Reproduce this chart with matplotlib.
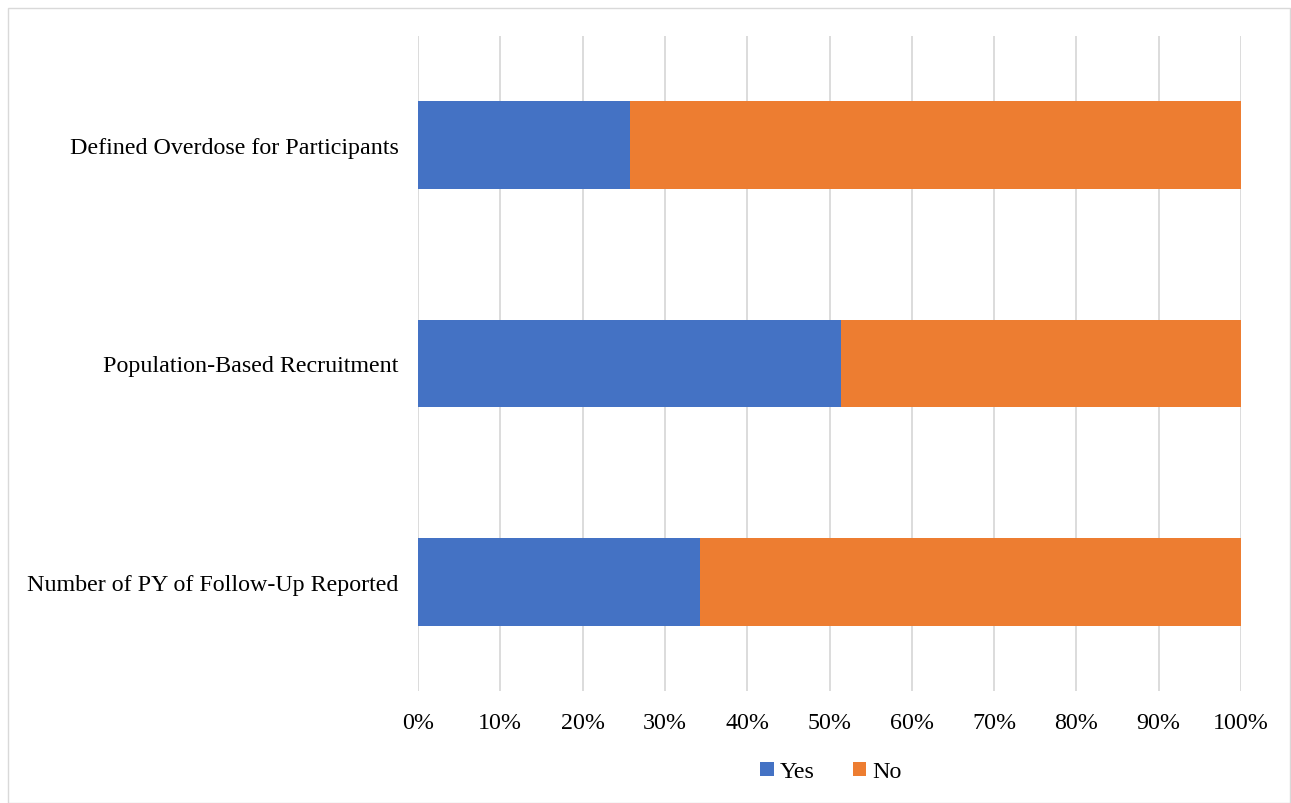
import matplotlib
matplotlib.use("Agg")
from matplotlib import pyplot as plt
from matplotlib.patches import Rectangle

# Data (35 studies, share answering yes/no)
categories = ["Number of PY of Follow-Up Reported",
              "Population-Based Recruitment",
              "Defined Overdose for Participants"]
yes = [12 / 35, 18 / 35, 9 / 35]
no = [23 / 35, 17 / 35, 26 / 35]
ticks = [i / 10 for i in range(11)]
tick_labels = ["%d%%" % (t * 10) for t in range(11)]

plt.rcParams["font.family"] = ["Liberation Serif", "DejaVu Serif"]

fig = plt.figure(figsize=(12.91, 8.04), dpi=100)
ax = fig.add_axes([418 / 1291, 1 - 692 / 804, 823 / 1291, 655 / 804])

ax.barh(categories, yes, height=0.4, color="#4472C4", label="Yes", zorder=3)
ax.barh(categories, no, left=yes, height=0.4, color="#ED7D31", label="No", zorder=3)

ax.set_xlim(0, 1)
ax.set_ylim(-0.5, 2.5)
ax.set_xticks(ticks)
ax.set_xticklabels(tick_labels)
ax.grid(axis="x", color="#D9D9D9", linewidth=1.3, zorder=0)
for s in ax.spines.values():
    s.set_visible(False)
ax.tick_params(axis="both", length=0, labelsize=17.3, colors="#000000")
ax.tick_params(axis="x", pad=15)
ax.tick_params(axis="y", pad=14)

ax.legend(loc="center", bbox_to_anchor=(831 / 1291, 1 - 773 / 804), bbox_transform=fig.transFigure,
          ncol=2, frameon=False, fontsize=17.3, handlelength=0.55, handleheight=0.55,
          handletextpad=0.25, columnspacing=1.6)

# outer chart border
fig.patches.append(Rectangle((8 / 1291, 0.5 / 804), 1282 / 1291, 795 / 804,
                             transform=fig.transFigure, fill=False,
                             edgecolor="#D9D9D9", linewidth=1))

fig.savefig("out.png", dpi=100)
